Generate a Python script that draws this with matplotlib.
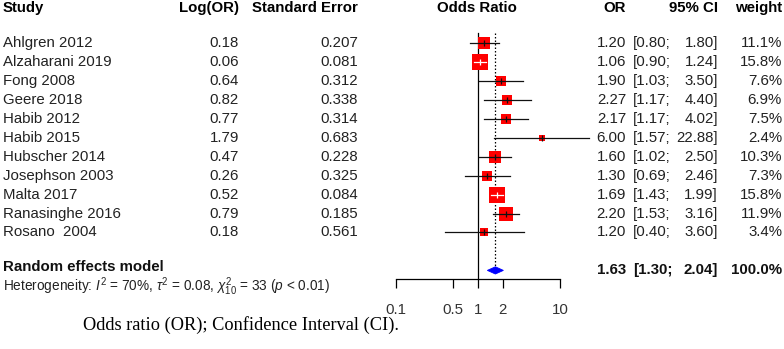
import numpy as np
import matplotlib
matplotlib.use("Agg")
import matplotlib.pyplot as plt
from matplotlib.transforms import blended_transform_factory
from matplotlib.patches import Polygon

plt.rcParams['font.family'] = ['Liberation Sans', 'DejaVu Sans']
plt.rcParams['mathtext.fontset'] = 'custom'
plt.rcParams['mathtext.rm'] = 'Liberation Sans'
plt.rcParams['mathtext.it'] = 'Liberation Sans:italic'
plt.rcParams['mathtext.bf'] = 'Liberation Sans:bold'

studies = ["Ahlgren 2012", "Alzaharani 2019", "Fong 2008", "Geere 2018", "Habib 2012",
           "Habib 2015", "Hubscher 2014", "Josephson 2003", "Malta 2017",
           "Ranasinghe 2016", "Rosano  2004"]
log_or = ["0.18", "0.06", "0.64", "0.82", "0.77", "1.79", "0.47", "0.26", "0.52", "0.79", "0.18"]
std_err = ["0.207", "0.081", "0.312", "0.338", "0.314", "0.683", "0.228", "0.325", "0.084", "0.185", "0.561"]
or_vals = [1.20, 1.06, 1.90, 2.27, 2.17, 6.00, 1.60, 1.30, 1.69, 2.20, 1.20]
ci_lo = [0.80, 0.90, 1.03, 1.17, 1.17, 1.57, 1.02, 0.69, 1.43, 1.53, 0.40]
ci_hi = [1.80, 1.24, 3.50, 4.40, 4.02, 22.88, 2.50, 2.46, 1.99, 3.16, 3.60]
weights = [11.1, 15.8, 7.6, 6.9, 7.5, 2.4, 10.3, 7.3, 15.8, 11.9, 3.4]

re_or, re_lo, re_hi = 1.63, 1.30, 2.04
ticks = [0.1, 0.5, 1, 2, 10]
tick_labels = ["0.1", "0.5", "1", "2", "10"]

W, H = 784, 349
fig = plt.figure(figsize=(W / 100, H / 100), dpi=100)
ppd = 82.0  # pixels per decade
xmin, xmax = 0.1, 25
ax = fig.add_axes([396 / W, 0, ppd * np.log10(xmax / xmin) / W, 1])
ax.set_xscale('log')
ax.set_xlim(xmin, xmax)
row0, rowh = 43.0, 18.95
ax.set_ylim((H - row0) / rowh, -row0 / rowh)
ax.patch.set_alpha(0)
for s in ['top', 'left', 'right']:
    ax.spines[s].set_visible(False)
axis_row = 12.45
ax.spines['bottom'].set_position(('data', axis_row))
ax.spines['bottom'].set_bounds(0.1, 10)
ax.spines['bottom'].set_linewidth(0.9)
ax.set_xticks(ticks)
ax.set_xticklabels(tick_labels)
ax.minorticks_off()
ax.tick_params(axis='x', direction='out', length=6.5, width=0.9, pad=10.5,
               labelsize=10.8, labelcolor='#333333')
ax.tick_params(axis='y', left=False, labelleft=False)

rows = np.arange(len(studies))
re_row = 12

# reference lines
ax.plot([1, 1], [-0.53, axis_row], color='black', lw=0.9, zorder=1)
ax.plot([re_or, re_or], [-0.53, re_row - 0.18], color='black', lw=0.9,
        linestyle=(0, (1.2, 1.6)), zorder=1)

for r, o, lo, hi, w in zip(rows, or_vals, ci_lo, ci_hi, weights):
    side = 15.2 * np.sqrt(w / 15.8)
    ax.plot([o], [r], marker='s', markersize=side * 0.72, color='#FF0000',
            markeredgewidth=0, zorder=2, clip_on=False)
    half_dec = side / 2 / ppd
    inside = (np.log10(o) - np.log10(lo) < half_dec) and (np.log10(hi) - np.log10(o) < half_dec)
    c = 'white' if inside else '#111111'
    ax.plot([lo, hi], [r, r], color=c, lw=0.9, zorder=3, clip_on=False)
    ax.plot([o], [r], marker='|', markersize=5, markeredgewidth=0.9, color=c,
            zorder=3, clip_on=False)

# diamond
dh = 0.19
ax.add_patch(Polygon([[re_lo, re_row], [re_or, re_row - dh], [re_hi, re_row], [re_or, re_row + dh]],
                     closed=True, facecolor='#0000FF', edgecolor='#0000FF', lw=0.6, zorder=3))

# text columns
tr = blended_transform_factory(fig.transFigure, ax.transData)
fs = 10.8
tc = '#222222'
hdr_row = -1.85

def fx(px):
    return px / W

ax.text(fx(3), hdr_row, "Study", transform=tr, ha='left', va='center', fontsize=fs, fontweight='bold')
ax.text(fx(239), hdr_row, "Log(OR)", transform=tr, ha='right', va='center', fontsize=fs, fontweight='bold')
ax.text(fx(358), hdr_row, "Standard Error", transform=tr, ha='right', va='center', fontsize=fs, fontweight='bold')
ax.text(fx(477), hdr_row, "Odds Ratio", transform=tr, ha='center', va='center', fontsize=fs, fontweight='bold')
ax.text(fx(626), hdr_row, "OR", transform=tr, ha='right', va='center', fontsize=fs, fontweight='bold')
ax.text(fx(718), hdr_row, "95% CI", transform=tr, ha='right', va='center', fontsize=fs, fontweight='bold')
ax.text(fx(782), hdr_row, "weight", transform=tr, ha='right', va='center', fontsize=fs, fontweight='bold')

for r, name, lg, se, o, lo, hi, w in zip(rows, studies, log_or, std_err, or_vals, ci_lo, ci_hi, weights):
    kw = dict(transform=tr, va='center', fontsize=fs, color=tc)
    ax.text(fx(3), r, name, ha='left', **kw)
    ax.text(fx(239), r, lg, ha='right', **kw)
    ax.text(fx(358), r, se, ha='right', **kw)
    ax.text(fx(626), r, f"{o:.2f}", ha='right', **kw)
    ax.text(fx(633), r, f"[{lo:.2f};", ha='left', **kw)
    ax.text(fx(718), r, f"{hi:.2f}]", ha='right', **kw)
    ax.text(fx(782), r, f"{w:.1f}%", ha='right', **kw)

kwb = dict(transform=tr, fontsize=fs, fontweight='bold', color='#111111')
ax.text(fx(3), (271 - row0) / rowh, "Random effects model", ha='left', va='baseline', **kwb)
ax.text(fx(626), re_row, f"{re_or:.2f}", ha='right', va='center', **kwb)
ax.text(fx(633), re_row, f"[{re_lo:.2f};", ha='left', va='center', **kwb)
ax.text(fx(718), re_row, f"{re_hi:.2f}]", ha='right', va='center', **kwb)
ax.text(fx(782), re_row, "100.0%", ha='right', va='center', **kwb)

ax.text(fx(3), (291 - row0) / rowh,
        r"Heterogeneity: $I^2$ = 70%, $\tau^2$ = 0.08, $\chi^2_{10}$ = 33 ($p$ < 0.01)",
        transform=tr, ha='left', va='baseline', fontsize=9.8, color=tc)

fig.text(fx(83), 1 - 325 / H, "Odds ratio (OR); Confidence Interval (CI).",
         ha='left', va='center', fontsize=13.2, family=['Liberation Serif'], color='black')

fig.savefig("out.png", dpi=100)
